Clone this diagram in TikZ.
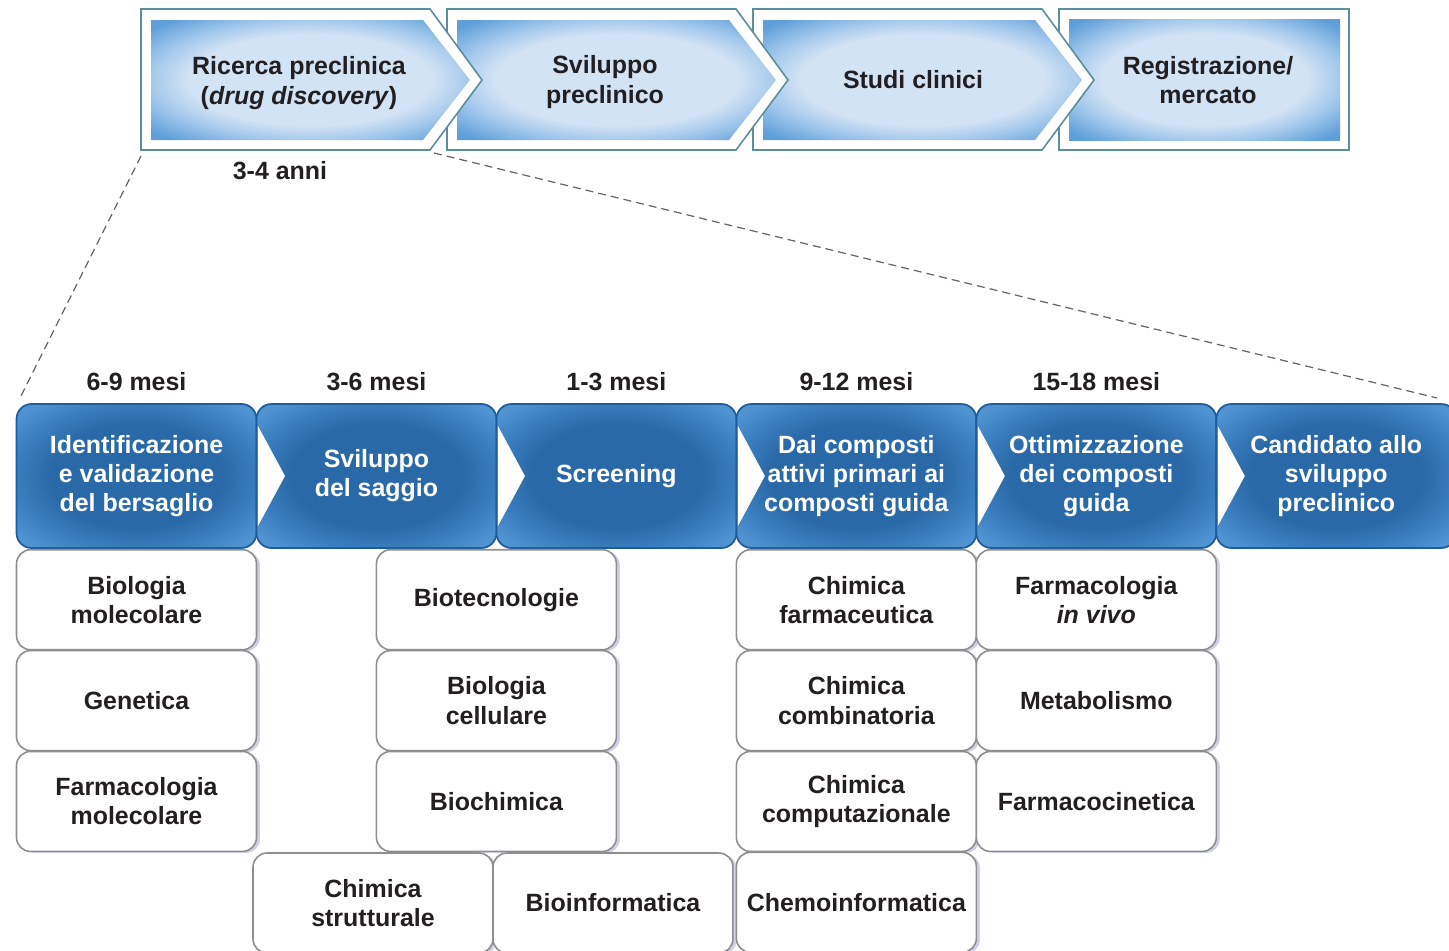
\documentclass[tikz,border=0pt]{standalone}
\usepackage{fontspec}
\setmainfont{Liberation Sans}
\usetikzlibrary{positioning, shadows}
\definecolor{topedge}{HTML}{5E9FDA}
\definecolor{topsoft}{HTML}{A5C9EC}
\definecolor{topmid}{HTML}{D2E3F5}
\definecolor{frameline}{HTML}{5A8E9B}
\definecolor{blueedge}{HTML}{4F93D2}
\definecolor{bluesoft}{HTML}{3A7DBD}
\definecolor{bluemid}{HTML}{2A69A7}
\definecolor{blueline}{HTML}{1F5C9A}
\definecolor{ink}{HTML}{231F20}
\definecolor{boxline}{HTML}{8E8E8E}
\definecolor{shadowc}{HTML}{A0A0CC}
\pgfdeclareradialshading{topglow}{\pgfpointorigin}{color(0bp)=(topmid); color(19bp)=(topmid); color(25bp)=(topsoft); color(33bp)=(topedge); color(50bp)=(topedge)}
\pgfdeclareradialshading{blueglow}{\pgfpointorigin}{color(0bp)=(bluemid); color(18bp)=(bluemid); color(25bp)=(bluesoft); color(32bp)=(blueedge); color(50bp)=(blueedge)}
\newcommand{\phasebox}[2]{%
% #1 = left edge, #2 = 1 with arrow tip, 0 plain box

\ifnum#2=1
\filldraw[phaseline]
(#1,9) -- (#1+289,9) -- (#1+341,80) -- (#1+289,150) -- (#1,150) -- cycle;
\shade[shading=topglow]
(#1+10,20) -- (#1+282,20) -- (#1+329,80) -- (#1+282,140) -- (#1+10,140) -- cycle;
\fi

% last box, no tip
\ifnum#2=0
\filldraw[phaseline] (#1,9) rectangle (#1+290,150);
\shade[shading=topglow] (#1+10,19) rectangle (#1+281,140);
\fi
}

\begin{document}
\begin{tikzpicture}[
    x=0.02cm, y=-0.02cm,
    font=\fontsize{14.2}{16.6}\selectfont\bfseries,
    text=ink,
    phaseline/.style={fill=white, draw=frameline, line width=0.9pt},
    stage/.style={rectangle, rounded corners=0.3cm, shading=blueglow, draw=blueline,
        line width=1pt, minimum width=4.8cm, minimum height=2.88cm, outer sep=0pt,
        text=white, align=center, inner sep=0pt},
    field/.style={rectangle, rounded corners=0.28cm, fill=white, draw=boxline,
        line width=0.9pt, minimum width=4.8cm, minimum height=2cm, outer sep=0pt,
        align=center, inner sep=0pt,
        drop shadow={shadow xshift=0.07cm, shadow yshift=-0.03cm, fill=shadowc, opacity=0.5}},
    period/.style={inner sep=0pt},
    zoomline/.style={dashed, draw=gray!80!black, line width=0.7pt, dash pattern=on 0.16cm off 0.1cm}
]
\useasboundingbox (0,0) rectangle (1449,950);
\clip (0,0) rectangle (1449,950);

% top row, drawn right to left so each tip lies on the next box
\phasebox{1059}{0}
\phasebox{753}{1}
\phasebox{447}{1}
\phasebox{141}{1}
\node[align=center] (rp) at (299,83) {Ricerca preclinica\\(\textit{drug discovery})};
\node[align=center] (sp) at (605,82) {Sviluppo\\preclinico};
\node (sc) at (913,80) {Studi clinici};
\node[align=center] (rm) at (1208,80) {Registrazione/\\mercato};
\node[period] (anni) at (280,171) {3-4 anni};

% zoom lines
\coordinate (zl1) at (141,156);
\coordinate (zl2) at (20,398);
\coordinate (zr1) at (434,153);
\coordinate (zr2) at (1437,398);
\draw[zoomline] (zl1) -- (zl2);
\draw[zoomline] (zr1) -- (zr2);

% discovery stages
\node[stage] (b1) at (136.5,476) {Identificazione\\e validazione\\del bersaglio};
\node[stage, right=0pt of b1] (b2) {Sviluppo\\del saggio};
\node[stage, right=0pt of b2] (b3) {Screening};
\node[stage, right=0pt of b3] (b4) {Dai composti\\attivi primari ai\\composti guida};
\node[stage, right=0pt of b4] (b5) {Ottimizzazione\\dei composti\\guida};
\node[stage, right=0pt of b5] (b6) {Candidato allo\\sviluppo\\preclinico};
\foreach \b in {b2,b3,b4,b5,b6}
    \fill[white] (\b.west) ++(1.5,-50) -- ++(27,50) -- ++(-27,50) -- cycle;

\node[period, above=0.25cm of b1] (t1) {6-9 mesi};
\node[period, above=0.25cm of b2] (t2) {3-6 mesi};
\node[period, above=0.25cm of b3] (t3) {1-3 mesi};
\node[period, above=0.25cm of b4] (t4) {9-12 mesi};
\node[period, above=0.25cm of b5] (t5) {15-18 mesi};

% disciplines
\node[field, below=1pt of b1] (mol) {Biologia\\molecolare};
\node[field, below=0.5pt of mol] (gen) {Genetica};
\node[field, below=0.5pt of gen] (fmol) {Farmacologia\\molecolare};

\node[field, below=1pt of b2.south east] (biot) {Biotecnologie};
\node[field, below=0.5pt of biot] (bcel) {Biologia\\cellulare};
\node[field, below=0.5pt of bcel] (bchim) {Biochimica};

\node[field, below=1pt of b4] (cfarm) {Chimica\\farmaceutica};
\node[field, below=0.5pt of cfarm] (ccomb) {Chimica\\combinatoria};
\node[field, below=0.5pt of ccomb] (ccomp) {Chimica\\computazionale};

\node[field, below=1pt of b5] (fviv) {Farmacologia\\\textit{in vivo}};
\node[field, below=0.5pt of fviv] (metab) {Metabolismo};
\node[field, below=0.5pt of metab] (fcin) {Farmacocinetica};

\node[field] (cstr) at (373,903) {Chimica\\strutturale};
\node[field, right=0pt of cstr] (binf) {Bioinformatica};
\node[field, below=0.5pt of ccomp] (cinf) {Chemoinformatica};
\end{tikzpicture}
\end{document}
